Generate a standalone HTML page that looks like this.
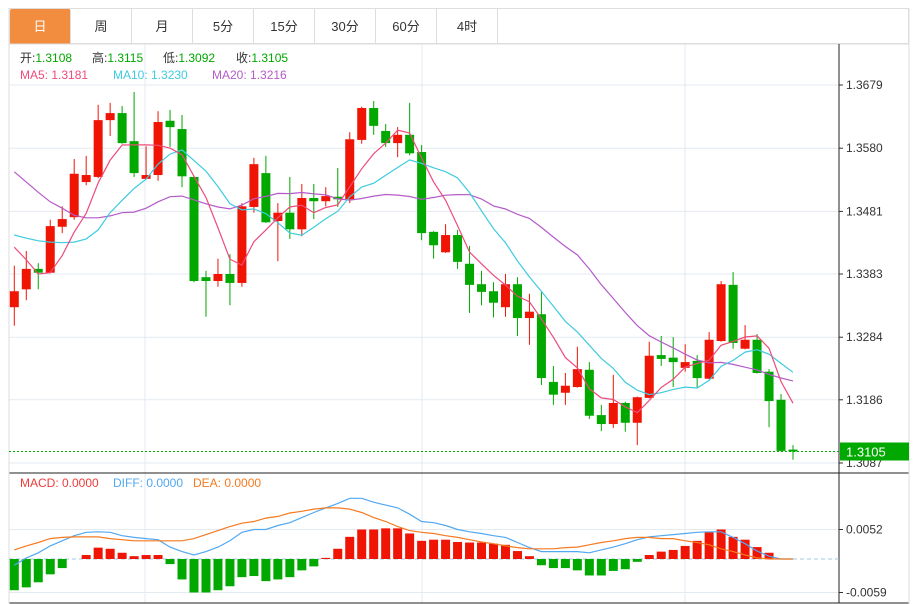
<!DOCTYPE html>
<html><head><meta charset="utf-8"><style>
body{margin:0;background:#fff;font-family:"Liberation Sans","Noto Sans CJK SC",sans-serif;}
#wrap{position:relative;width:919px;height:604px;overflow:hidden;}
.tab{position:absolute;top:9px;height:35px;width:61px;line-height:35px;text-align:center;font-size:13px;color:#333;border-right:1px solid #ddd;box-sizing:border-box;}
</style></head><body>
<div id="wrap">
<div style="position:absolute;left:9px;top:8px;width:900px;height:36px;border:1px solid #ddd;box-sizing:border-box;"></div>
<div class="tab" style="left:10px;background:#f28c3e;color:#fff;border-radius:2px;">日</div>
<div class="tab" style="left:71px;">周</div>
<div class="tab" style="left:132px;">月</div>
<div class="tab" style="left:193px;">5分</div>
<div class="tab" style="left:254px;">15分</div>
<div class="tab" style="left:315px;">30分</div>
<div class="tab" style="left:376px;">60分</div>
<div class="tab" style="left:437px;">4时</div>
<svg id="svg" width="919" height="604" style="position:absolute;left:0;top:0"></svg>
</div>
<script>
const opens=[1.3331,1.3359,1.3391,1.3385,1.3457,1.3472,1.3527,1.3535,1.3624,1.3635,1.3591,1.3532,1.3538,1.3623,1.3610,1.3535,1.3378,1.3372,1.3383,1.3369,1.3488,1.3541,1.3466,1.3479,1.3453,1.3502,1.3497,1.3504,1.3500,1.3593,1.3643,1.3607,1.3588,1.3601,1.3574,1.3449,1.3417,1.3444,1.3399,1.3367,1.3356,1.3331,1.3367,1.3314,1.3320,1.3214,1.3197,1.3206,1.3233,1.3162,1.3148,1.3181,1.3150,1.3189,1.3256,1.3252,1.3236,1.3247,1.3219,1.3278,1.3366,1.3266,1.3280,1.3230,1.3186,1.3108];
const closes=[1.3356,1.3391,1.3385,1.3458,1.3469,1.3540,1.3538,1.3624,1.3635,1.3588,1.3541,1.3538,1.3621,1.3613,1.3536,1.3372,1.3372,1.3383,1.3369,1.3489,1.3555,1.3464,1.3479,1.3453,1.3502,1.3497,1.3505,1.3500,1.3594,1.3643,1.3615,1.3588,1.3601,1.3572,1.3447,1.3428,1.3444,1.3402,1.3366,1.3355,1.3338,1.3367,1.3314,1.3324,1.3220,1.3194,1.3208,1.3234,1.3161,1.3148,1.3181,1.3150,1.3190,1.3255,1.3250,1.3245,1.3245,1.3220,1.3280,1.3367,1.3275,1.3280,1.3228,1.3184,1.3106,1.3105];
const highs=[1.3396,1.3419,1.3400,1.3468,1.3489,1.3563,1.3568,1.3648,1.3651,1.3646,1.3668,1.3583,1.3638,1.3640,1.3632,1.3536,1.3388,1.3407,1.3414,1.3494,1.3565,1.3568,1.3494,1.3535,1.3524,1.3524,1.3519,1.3549,1.3605,1.3645,1.3654,1.3618,1.3613,1.3651,1.3585,1.3450,1.3461,1.3452,1.3427,1.3388,1.3370,1.3383,1.3378,1.3352,1.3355,1.3239,1.3228,1.3269,1.3245,1.3178,1.3225,1.3183,1.3191,1.3277,1.3286,1.3284,1.3273,1.3256,1.3292,1.3372,1.3386,1.3303,1.3289,1.3234,1.3195,1.3115];
const lows=[1.3302,1.3342,1.3359,1.3384,1.3447,1.3468,1.3522,1.3533,1.3599,1.3587,1.3535,1.3531,1.3529,1.3582,1.3519,1.3370,1.3316,1.3363,1.3334,1.3363,1.3479,1.3463,1.3403,1.3438,1.3442,1.3469,1.3489,1.3488,1.3494,1.3587,1.3601,1.3582,1.3566,1.3569,1.3436,1.3407,1.3416,1.3391,1.3322,1.3334,1.3315,1.3316,1.3286,1.3272,1.3209,1.3178,1.3178,1.3205,1.3156,1.3137,1.3142,1.3136,1.3115,1.3188,1.3239,1.3206,1.3230,1.3204,1.3218,1.3277,1.3266,1.3265,1.3227,1.3143,1.3105,1.3092];
// MA values before enough history exists
const ma5Lead=[1.3425,1.3405,1.3383,1.3385];
const ma10Lead=[1.3444,1.3439,1.3435,1.3433,1.3432,1.3433,1.3438,1.3452,1.3479];
const ma20Lead=[1.3543,1.3527,1.3511,1.3496,1.3486,1.3475,1.3471,1.3471,1.3474,1.3479,1.3480,1.3486,1.3496,1.3504,1.3505,1.3499,1.3493,1.3488,1.3485];
const priceTicks=[1.3679,1.3580,1.3481,1.3383,1.3284,1.3186,1.3087];
const diffVals=[-0.0011,0.0002,0.0011,0.0023,0.0032,0.0041,0.0047,0.0048,0.0047,0.0041,0.0038,0.0036,0.0034,0.0021,0.0013,0.0007,0.0013,0.0021,0.0032,0.0047,0.0052,0.0052,0.0059,0.0064,0.0073,0.0082,0.0090,0.0098,0.0107,0.0107,0.0100,0.0095,0.0090,0.0079,0.0066,0.0064,0.0059,0.0052,0.0048,0.0045,0.0041,0.0038,0.0029,0.0020,0.0013,0.0013,0.0013,0.0013,0.0011,0.0016,0.0021,0.0027,0.0034,0.0039,0.0041,0.0043,0.0045,0.0047,0.0048,0.0048,0.0038,0.0027,0.0014,0.0005,0,0];
const deaVals=[0.0016,0.0023,0.0029,0.0036,0.0038,0.0039,0.0039,0.0039,0.0036,0.0034,0.0032,0.0032,0.0032,0.0032,0.0032,0.0036,0.0043,0.0050,0.0057,0.0063,0.0066,0.0072,0.0075,0.0081,0.0084,0.0088,0.0090,0.0090,0.0088,0.0082,0.0073,0.0066,0.0057,0.0050,0.0047,0.0045,0.0041,0.0038,0.0034,0.0030,0.0027,0.0023,0.0020,0.0018,0.0018,0.0018,0.0020,0.0021,0.0025,0.0029,0.0032,0.0036,0.0038,0.0038,0.0036,0.0036,0.0032,0.0029,0.0025,0.0018,0.0013,0.0007,0.0002,0,0,0];
const macdVals=[-0.0055,-0.0050,-0.0041,-0.0027,-0.0016,0,0.0007,0.0020,0.0018,0.0011,0.0005,0.0007,0.0007,-0.0009,-0.0036,-0.0059,-0.0059,-0.0055,-0.0048,-0.0032,-0.0030,-0.0039,-0.0036,-0.0032,-0.0020,-0.0013,0.0002,0.0018,0.0039,0.0052,0.0052,0.0054,0.0054,0.0045,0.0032,0.0034,0.0034,0.0030,0.0029,0.0029,0.0027,0.0025,0.0014,0.0005,-0.0011,-0.0016,-0.0016,-0.0020,-0.0029,-0.0029,-0.0021,-0.0018,-0.0005,0.0007,0.0013,0.0016,0.0023,0.0032,0.0047,0.0052,0.0039,0.0034,0.0021,0.0011,0,0];
const macdTicks=[0.0052,-0.0059];

const svg=document.getElementById('svg');
const NS='http://www.w3.org/2000/svg';
function mk(tag,attrs,parent){const e=document.createElementNS(NS,tag);for(const k in attrs)e.setAttribute(k,attrs[k]);(parent||svg).appendChild(e);return e;}
const xOf=i=>14.3+i*11.98;
const yP=p=>85+(1.3679-p)*6385;
const yM=v=>559-v*5676;
const UP='#f01405',DN='#00a800';

let g;
g=mk('line',{x1:9,y1:44,x2:909,y2:44,stroke:'#ddd'});
[145,422,685].forEach(x=>{const l=mk('line',{x1:x,y1:44,x2:x,y2:603,stroke:'#e3eaf0'});});
priceTicks.forEach(t=>{const y=yP(t);const l=mk('line',{x1:9,y1:y,x2:839,y2:y,stroke:'#e3eaf0'});
 mk('line',{x1:839,y1:y,x2:843,y2:y,stroke:'#333'});
 const tx=mk('text',{x:846,y:y+4,'font-size':12,fill:'#333'});tx.textContent=t.toFixed(4);});
macdTicks.forEach(t=>{const y=yM(t);const l=mk('line',{x1:9,y1:y,x2:839,y2:y,stroke:'#e3eaf0'});
 mk('line',{x1:839,y1:y,x2:843,y2:y,stroke:'#333'});
 const tx=mk('text',{x:846,y:y+4,'font-size':12,fill:'#333'});tx.textContent=t.toFixed(4);});
g=mk('line',{x1:839,y1:44,x2:839,y2:603,stroke:'#222'});
g=mk('line',{x1:9,y1:473,x2:909,y2:473,stroke:'#222'});
g=mk('line',{x1:9,y1:603,x2:909,y2:603,stroke:'#222'});
g=mk('line',{x1:909,y1:8,x2:909,y2:604,stroke:'#ddd'});
g=mk('line',{x1:9,y1:8,x2:9,y2:604,stroke:'#ddd'});

for(let i=0;i<closes.length;i++){
 const up=closes[i]>=opens[i];const c=up?UP:DN;const x=xOf(i);
 const w=mk('line',{x1:x,y1:yP(highs[i]),x2:x,y2:yP(lows[i]),stroke:c,'stroke-width':1});
 
 const top=yP(Math.max(opens[i],closes[i])),bot=yP(Math.min(opens[i],closes[i]));
 const r=mk('rect',{x:x-4.5,y:top,width:9,height:Math.max(1,bot-top),fill:c});
 
}
function ma(n,lead){const out=[];for(let i=0;i<closes.length;i++){if(i<n-1){out.push(lead[i]);}else{let s=0;for(let k=i-n+1;k<=i;k++)s+=closes[k];out.push(s/n);}}return out;}
function poly(vals,yf,color,name){const pts=vals.map((v,i)=>xOf(i).toFixed(1)+','+yf(v).toFixed(1)).join(' ');const p=mk('polyline',{points:pts,fill:'none',stroke:color,'stroke-width':1.2});}
poly(ma(20,ma20Lead),yP,'#b55bc9','ma20-line');
poly(ma(10,ma10Lead),yP,'#3fcbe0','ma10-line');
poly(ma(5,ma5Lead),yP,'#ee4b7b','ma5-line');

const last=closes[closes.length-1];const ly=yP(last);
g=mk('line',{x1:9,y1:ly,x2:839,y2:ly,stroke:'#00a800','stroke-dasharray':'2,2'});
g=mk('rect',{x:840,y:ly-9,width:69,height:18,fill:'#00a800'});
g=mk('text',{x:846,y:ly+5,'font-size':13,fill:'#fff'});g.textContent=last.toFixed(4);

g=mk('line',{x1:9,y1:yM(0),x2:839,y2:yM(0),stroke:'#9cc8e0','stroke-dasharray':'4,3'});
for(let i=0;i<macdVals.length;i++){const v=macdVals[i];if(v===0)continue;const y0=yM(0),y1=yM(v);
 const r=mk('rect',{x:xOf(i)-4.5,y:Math.min(y0,y1),width:9,height:Math.abs(y1-y0),fill:v>0?UP:DN});
 }
poly(diffVals,yM,'#52a8f0','diff-line');
poly(deaVals,yM,'#f57a20','dea-line');

function txt(x,y,parts,name){const t=mk('text',{x:x,y:y,'font-size':12});parts.forEach(p=>{const s=mk('tspan',{fill:p[1]},t);s.textContent=p[0];});}
txt(20,62,[['开:','#333'],['1.3108','#00a800']],'open-legend');
txt(92,62,[['高:','#333'],['1.3115','#00a800']],'high-legend');
txt(163,62,[['低:','#333'],['1.3092','#00a800']],'low-legend');
txt(236,62,[['收:','#333'],['1.3105','#00a800']],'close-legend');
txt(20,79,[['MA5: 1.3181','#ee4b7b']],'ma5-legend');
txt(113,79,[['MA10: 1.3230','#3fcbe0']],'ma10-legend');
txt(212,79,[['MA20: 1.3216','#b55bc9']],'ma20-legend');
txt(20,487,[['MACD: 0.0000','#f03a3a']],'macd-legend');
txt(113,487,[['DIFF: 0.0000','#52a8f0']],'diff-legend');
txt(193,487,[['DEA: 0.0000','#f57a20']],'dea-legend');
</script>
</body></html>
